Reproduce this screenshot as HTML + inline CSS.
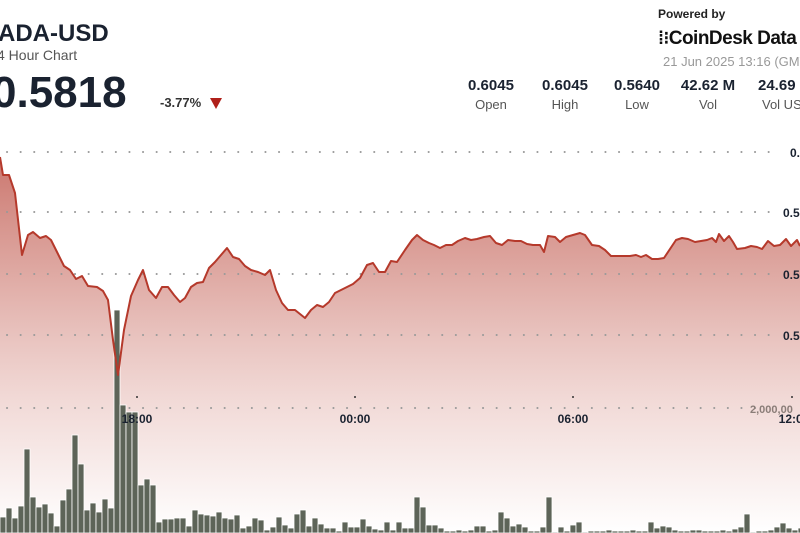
<!DOCTYPE html>
<html><head><meta charset="utf-8"><style>
body{margin:0;width:800px;height:533px;overflow:hidden;background:#fff;font-family:"Liberation Sans",sans-serif;position:relative}
.t{position:absolute;white-space:nowrap}
.s{position:absolute;text-align:center;width:70px}
.s b{display:block;font-size:15px;color:#1a2230}
.s span{display:block;font-size:13px;color:#555;margin-top:3px}
</style></head><body>
<svg width="800" height="533" style="position:absolute;left:0;top:0">
<defs>
<linearGradient id="g" gradientUnits="userSpaceOnUse" x1="0" y1="150" x2="0" y2="533">
<stop offset="0" stop-color="#c05a50" stop-opacity="0.85"/>
<stop offset="0.3" stop-color="#cf7f76" stop-opacity="0.7"/>
<stop offset="0.65" stop-color="#e8c0bb" stop-opacity="0.6"/>
<stop offset="1" stop-color="#ffffff" stop-opacity="0.6"/>
</linearGradient>
</defs>
<polygon id="area" fill="url(#g)" points=""/>
<g stroke="#999" stroke-width="2" stroke-dasharray="0.1 13.5" stroke-linecap="round">
<line x1="7" y1="152" x2="780" y2="152"/><line x1="7" y1="212" x2="780" y2="212"/><line x1="7" y1="274" x2="780" y2="274"/><line x1="7" y1="335" x2="780" y2="335"/><line x1="7" y1="408" x2="760" y2="408"/>
</g>
<g id="bars" fill="#5d6458" stroke="#fff" stroke-width="0.8"></g>
<polyline id="ln" fill="none" stroke="#b5392b" stroke-width="2" stroke-linejoin="round" points=""/>
<g fill="#333"><circle cx="137" cy="397" r="1"/><circle cx="355" cy="397" r="1"/><circle cx="573" cy="397" r="1"/><circle cx="792" cy="397" r="1"/></g>
<g font-family="Liberation Sans" font-weight="bold" font-size="12" fill="#1a2230" text-anchor="middle">
<text x="137" y="423">18:00</text><text x="355" y="423">00:00</text><text x="573" y="423">06:00</text><text x="794" y="423">12:00</text>
<text x="790" y="157" text-anchor="start">0.</text><text x="783" y="217" text-anchor="start">0.5</text><text x="783" y="279" text-anchor="start">0.5</text><text x="783" y="340" text-anchor="start">0.5</text>
</g>
<text x="750" y="413" font-family="Liberation Sans" font-weight="bold" font-size="11" fill="#8a7d78">2,000,00</text>
</svg>
<div class="t" style="left:-2px;top:20px;font-size:24px;font-weight:bold;color:#1a2230">ADA-USD</div>
<div class="t" style="left:-3px;top:47px;font-size:14px;color:#555">4 Hour Chart</div>
<div class="t" style="left:-8px;top:68px;font-size:44px;font-weight:bold;color:#1a2230">0.5818</div>
<div class="t" style="left:160px;top:95px;font-size:13px;font-weight:bold;color:#333">-3.77%</div>
<div class="t" style="left:210px;top:98px;width:0;height:0;border-left:6px solid transparent;border-right:6px solid transparent;border-top:11px solid #b0201a"></div>
<div class="t" style="left:658px;top:7px;font-size:12px;font-weight:bold;color:#222">Powered by</div>
<div class="t" style="left:658px;top:28px;font-size:19px;font-weight:bold;color:#111;letter-spacing:-0.5px"><span style="font-size:18px">⁞⁝</span>CoinDesk Data</div>
<div class="t" style="left:663px;top:54px;font-size:13px;color:#999">21 Jun 2025 13:16 (GMT)</div>
<div class="s" style="left:456px;top:77px"><b>0.6045</b><span>Open</span></div>
<div class="s" style="left:530px;top:77px"><b>0.6045</b><span>High</span></div>
<div class="s" style="left:602px;top:77px"><b>0.5640</b><span>Low</span></div>
<div class="s" style="left:673px;top:77px"><b>42.62 M</b><span>Vol</span></div>
<div class="t" style="left:758px;top:77px;font-size:15px;font-weight:bold;color:#1a2230">24.69<span style="display:block;font-size:13px;font-weight:normal;color:#555;margin-top:3px;margin-left:4px">Vol USD</span></div>
<script>
var p=[[0,157],[3,175],[9,175],[15,193],[22,255],[28,235],[33,232],[40,238],[46,236],[51,240],[58,254],[64,266],[70,270],[76,279],[82,276],[88,286],[97,287],[103,291],[108,300],[113,340],[118,375],[124,330],[131,296],[138,280],[143,270],[149,290],[156,298],[162,287],[168,287],[174,295],[180,302],[185,298],[191,287],[197,283],[203,282],[209,268],[215,262],[221,255],[227,248],[233,257],[239,259],[245,266],[251,270],[258,272],[265,275],[270,270],[276,290],[282,303],[288,310],[295,310],[300,314],[305,318],[311,310],[317,305],[323,307],[329,302],[335,293],[341,290],[347,287],[353,284],[360,278],[367,265],[373,263],[379,272],[385,272],[391,261],[397,262],[405,250],[412,240],[417,235],[423,240],[429,243],[434,245],[440,248],[446,245],[452,245],[458,241],[465,238],[471,240],[477,239],[484,237],[490,236],[496,243],[502,245],[508,240],[515,241],[521,241],[527,244],[533,245],[540,245],[544,252],[548,236],[555,237],[560,242],[566,237],[573,235],[580,233],[585,235],[592,245],[599,246],[605,250],[611,256],[617,256],[624,256],[630,256],[636,255],[641,257],[646,255],[652,259],[658,259],[664,258],[676,240],[682,238],[688,239],[695,242],[701,241],[707,240],[712,238],[716,242],[719,234],[724,241],[729,236],[733,242],[737,249],[745,248],[751,246],[757,247],[762,249],[768,241],[774,246],[780,245],[786,239],[791,246],[797,240],[800,246]];
var s=p.map(function(a){return a.join(',')}).join(' ');
document.getElementById('ln').setAttribute('points',s);
document.getElementById('area').setAttribute('points',s+' 800,533 0,533');
var v=[517,508,518,506,449,497,507,504,513,526,500,489,435,464,510,503,512,499,508,310,405,412,412,485,479,485,522,519,519,518,518,526,510,514,515,516,512,518,519,515,528,526,518,520,530,527,517,525,528,514,510,526,518,524,528,528,531,522,527,527,519,526,529,530,522,530,522,528,528,497,507,525,525,528,531,531,530,531,530,526,526,531,530,512,518,526,524,527,531,531,527,497,532,527,531,525,522,532,531,531,531,530,531,531,531,530,531,531,522,528,526,527,530,531,531,530,530,531,531,531,530,531,529,527,514,532,531,531,530,527,523,528,530,528];
var g=document.getElementById('bars'),h='';
for(var i=0;i<v.length;i++){var x=i*6,y=v[i];if(y<533)h+='<rect x="'+x+'" y="'+y+'" width="6" height="'+(533-y)+'"/>';}
g.innerHTML=h;
</script>
</body></html>
